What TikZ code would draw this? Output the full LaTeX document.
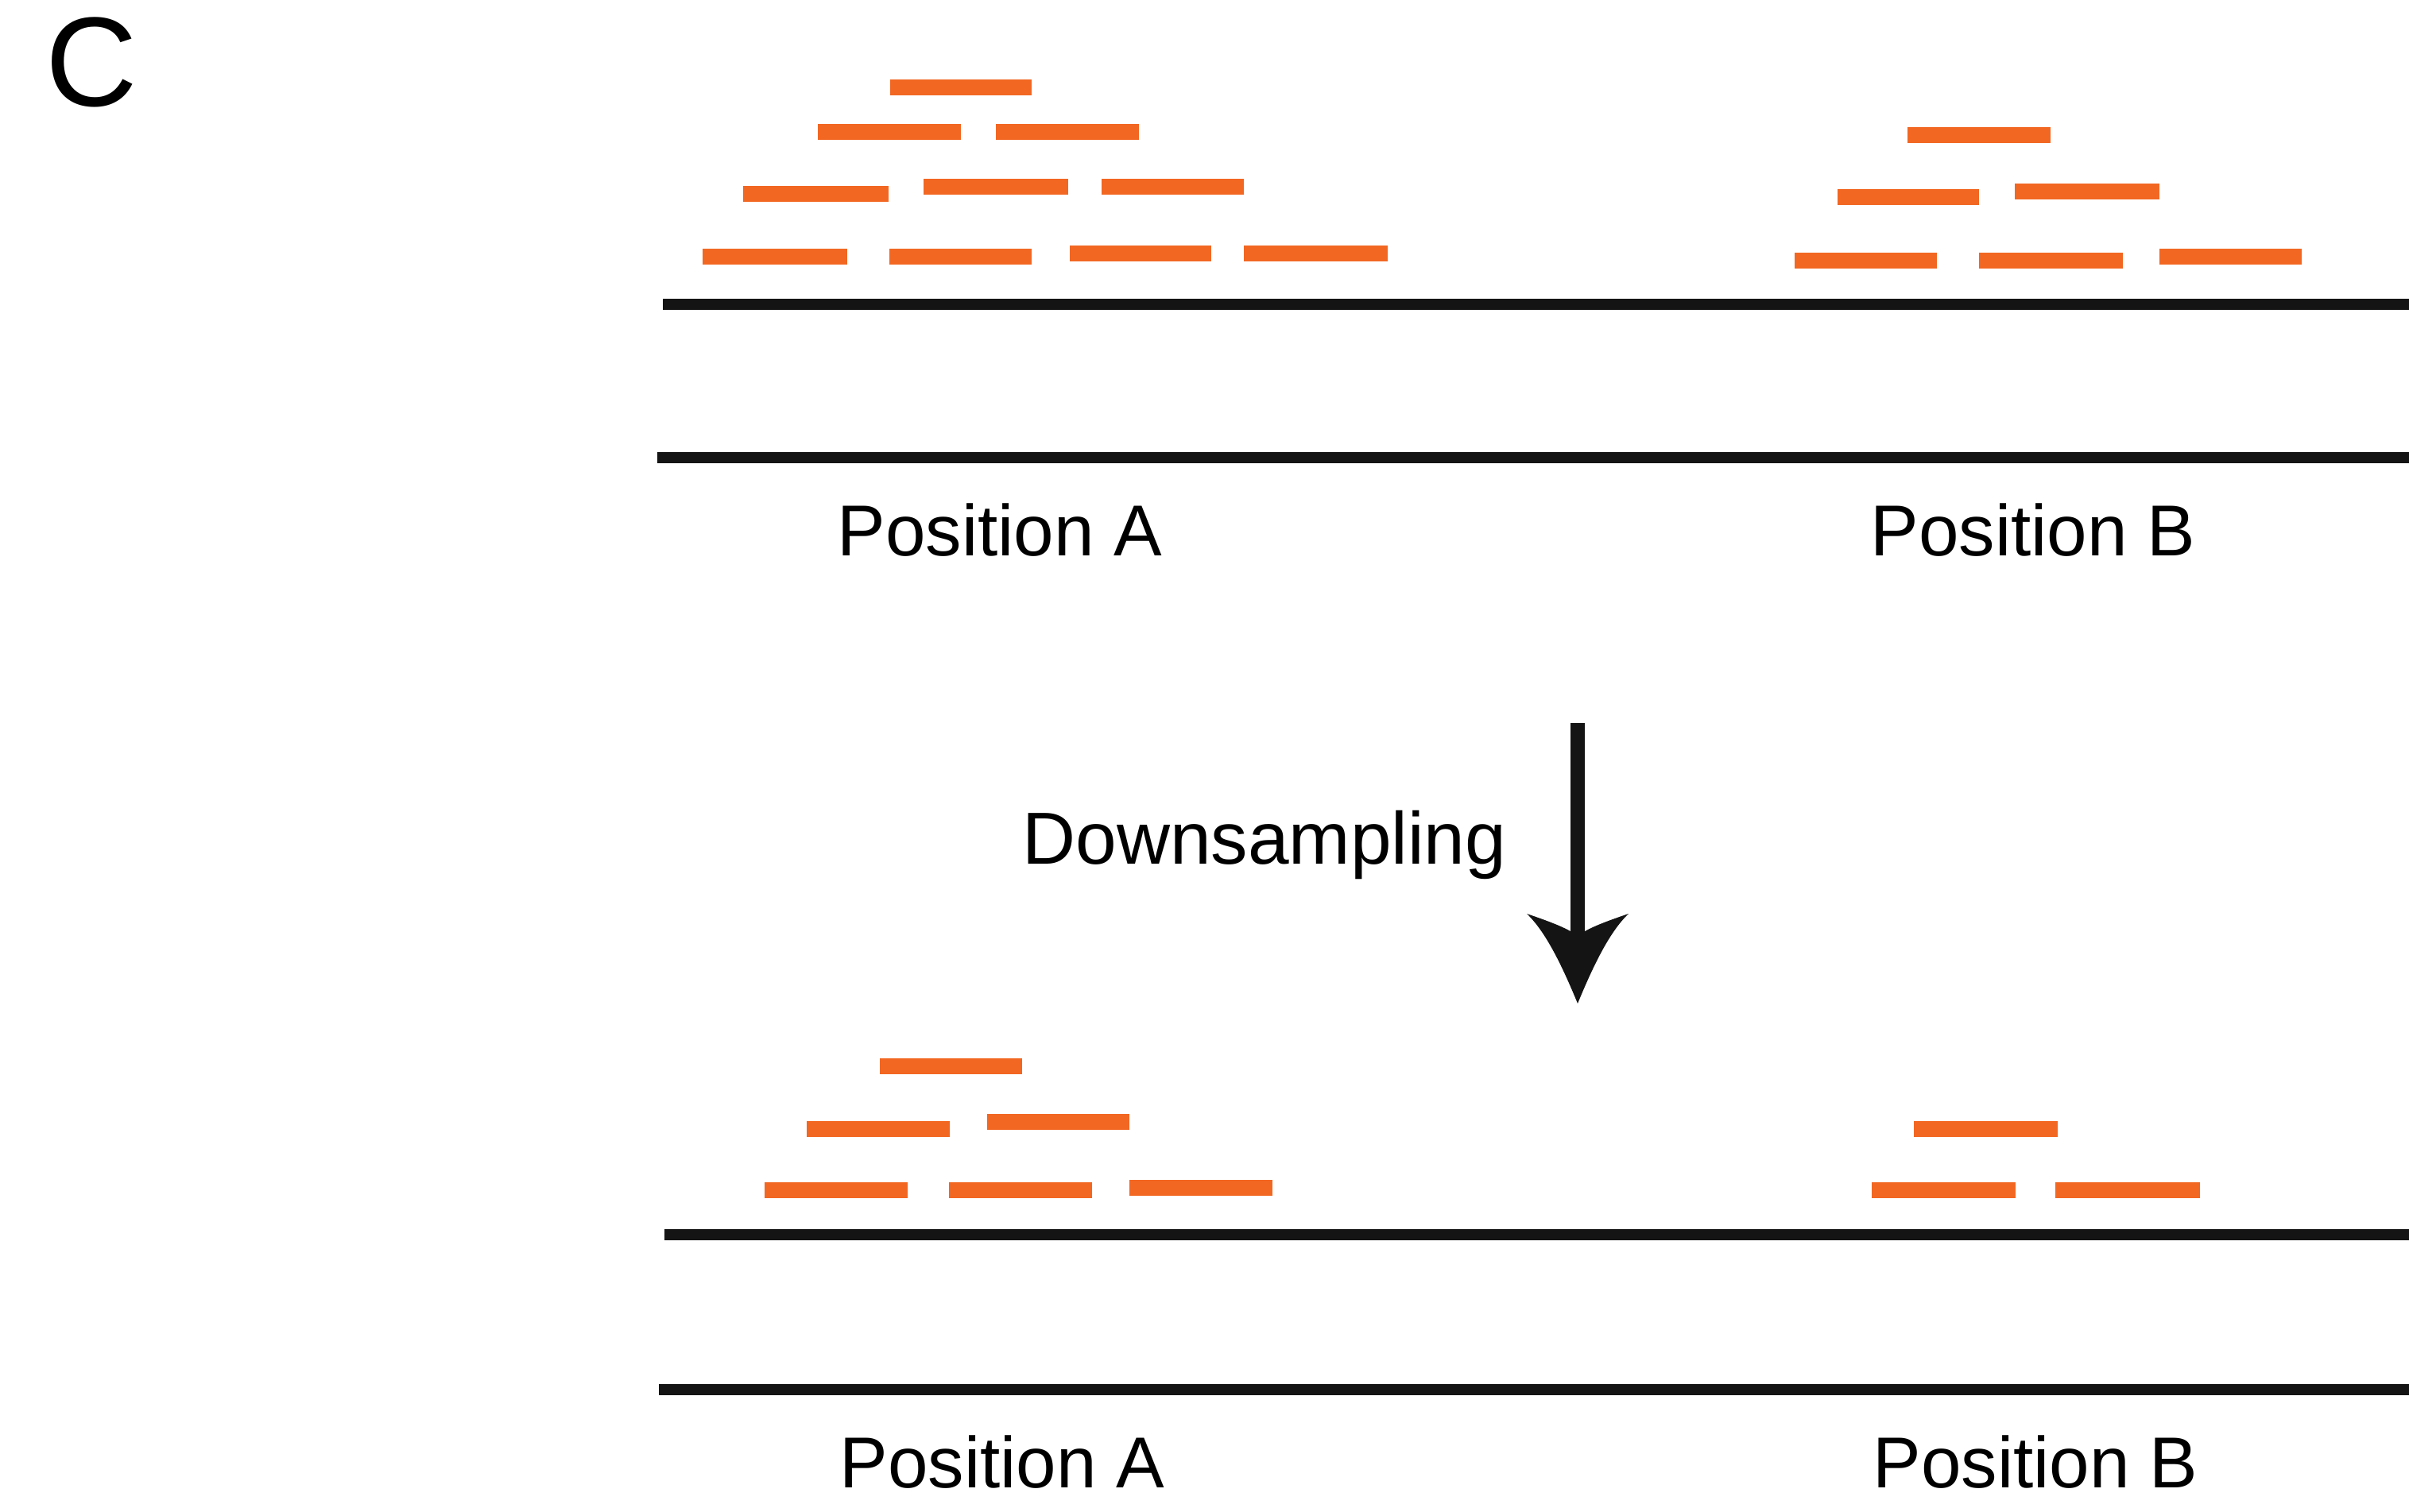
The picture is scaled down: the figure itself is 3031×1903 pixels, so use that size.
\documentclass[tikz,border=0pt]{standalone}
\usepackage{fontspec}
\setmainfont{Liberation Sans}
\definecolor{readorange}{RGB}{242,103,34}
\definecolor{trackblack}{RGB}{20,20,20}
% one sequencing read: \seqread{x start}{x end}{y}
\newcommand{\seqread}[3]{\draw[readbar] (#1,#3) -- (#2,#3);}
\begin{document}
\begin{tikzpicture}[x=0.25pt,y=-0.25pt,
  readbar/.style={readorange,line width=5pt,line cap=butt},
  trackline/.style={trackblack,line width=3.5pt,line cap=butt},
  poslabel/.style={anchor=base,inner sep=0pt,font=\fontsize{22.7pt}{26pt}\selectfont},
  panel/.style={anchor=base,inner sep=0pt,font=\fontsize{40pt}{44pt}\selectfont}]
\useasboundingbox (0,0) rectangle (3031,1903);

% panel letter
\node[panel] (letter) at (115,134) {C};

% ---- before downsampling ----
\draw[trackline] (834,383) -- (3031,383);
\draw[trackline] (827,576) -- (3031,576);
% reads stacked at position A
\seqread{1120}{1298}{110}
\seqread{1029}{1209}{166}
\seqread{1253}{1433}{166}
\seqread{935}{1118}{244}
\seqread{1162}{1344}{235}
\seqread{1386}{1565}{235}
\seqread{884}{1066}{323}
\seqread{1119}{1298}{323}
\seqread{1346}{1524}{319}
\seqread{1565}{1746}{319}
% reads stacked at position B
\seqread{2400}{2580}{170}
\seqread{2312}{2490}{248}
\seqread{2535}{2717}{241}
\seqread{2258}{2437}{328}
\seqread{2490}{2671}{328}
\seqread{2717}{2896}{323}
\node[poslabel] (posA1) at (1258,700) {Position A};
\node[poslabel] (posB1) at (2558,700) {Position B};

% ---- downsampling arrow ----
\node[poslabel,font=\fontsize{23.2pt}{27pt}\selectfont] (down) at (1591,1088) {Downsampling};
\coordinate (arrtop) at (1985,910);
\coordinate (arrneck) at (1985,1182);
\draw[trackblack,line width=4.3pt] (arrtop) -- (arrneck);
\fill[trackblack] (1985,1263)
  .. controls (1964,1212) and (1944,1172) .. (1921,1150)
  .. controls (1950,1160) and (1972,1168) .. (1985,1178)
  .. controls (1998,1168) and (2020,1160) .. (2049,1150)
  .. controls (2026,1172) and (2006,1212) .. (1985,1263) -- cycle;

% ---- after downsampling ----
\draw[trackline] (836,1554) -- (3031,1554);
\draw[trackline] (829,1749) -- (3031,1749);
% reads kept at position A
\seqread{1107}{1286}{1342}
\seqread{1015}{1195}{1421}
\seqread{1242}{1421}{1412}
\seqread{962}{1142}{1498}
\seqread{1194}{1374}{1498}
\seqread{1421}{1601}{1495}
% reads kept at position B
\seqread{2408}{2589}{1421}
\seqread{2355}{2536}{1498}
\seqread{2586}{2768}{1498}
\node[poslabel] (posA2) at (1261,1872) {Position A};
\node[poslabel] (posB2) at (2561,1872) {Position B};
\end{tikzpicture}
\end{document}
